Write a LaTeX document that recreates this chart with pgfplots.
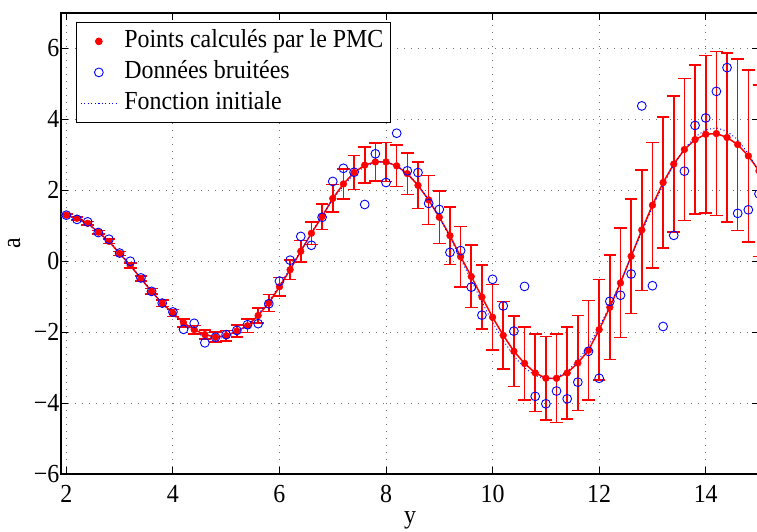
\documentclass[border=0pt]{standalone}
\usepackage{fontspec}
\setmainfont{Liberation Serif}[FakeStretch=0.92]
\usepackage{pgfplots}
\pgfplotsset{compat=1.18}
\usepackage{pgfplotstable}

\pgfplotsset{mylegend/.style={legend image code/.code={\draw[mark repeat=2,mark phase=2,##1] plot coordinates {(0pt,0pt) (18pt,0pt) (36pt,0pt)};}}}

\pgfplotstableread{
x y e n f
2.0 1.30 0.04 1.30 1.286
2.2 1.21 0.04 1.18 1.199
2.4 1.07 0.05 1.11 1.046
2.6 0.82 0.05 0.81 0.831
2.8 0.56 0.06 0.62 0.561
3.0 0.22 0.06 0.23 0.244
3.2 -0.12 0.07 0.00 -0.104
3.4 -0.49 0.07 -0.47 -0.471
3.6 -0.85 0.08 -0.85 -0.840
3.8 -1.19 0.09 -1.18 -1.193
4.0 -1.46 0.10 -1.43 -1.514
4.2 -1.74 0.11 -1.92 -1.786
4.4 -1.93 0.12 -1.75 -1.996
4.6 -2.07 0.13 -2.30 -2.131
4.8 -2.14 0.14 -2.14 -2.183
5.0 -2.10 0.15 -2.07 -2.144
5.2 -1.97 0.17 -1.95 -2.015
5.4 -1.82 0.19 -1.79 -1.796
5.6 -1.53 0.21 -1.76 -1.494
5.8 -1.18 0.24 -1.20 -1.119
6.0 -0.72 0.26 -0.56 -0.684
6.2 -0.24 0.28 0.03 -0.207
6.4 0.28 0.30 0.70 0.295
6.6 0.79 0.32 0.45 0.800
6.8 1.26 0.36 1.24 1.288
7.0 1.77 0.39 2.25 1.738
7.2 2.18 0.42 2.62 2.130
7.4 2.50 0.48 2.51 2.445
7.6 2.71 0.51 1.60 2.668
7.8 2.80 0.54 3.03 2.789
8.0 2.80 0.55 2.22 2.798
8.2 2.69 0.58 3.61 2.694
8.4 2.47 0.59 2.55 2.477
8.6 2.14 0.65 2.50 2.154
8.8 1.73 0.69 1.63 1.735
9.0 1.24 0.74 1.46 1.236
9.2 0.72 0.81 0.25 0.676
9.4 0.13 0.85 0.30 0.076
9.6 -0.43 0.88 -0.73 -0.540
9.8 -1.01 0.90 -1.52 -1.147
10.0 -1.58 0.92 -0.51 -1.720
10.2 -2.09 0.95 -1.26 -2.235
10.4 -2.54 0.99 -1.97 -2.670
10.6 -2.88 1.03 -0.71 -3.004
10.8 -3.15 1.09 -3.81 -3.225
11.0 -3.30 1.18 -4.02 -3.317
11.2 -3.30 1.25 -3.66 -3.277
11.4 -3.15 1.30 -3.88 -3.104
11.6 -2.87 1.34 -3.41 -2.802
11.8 -2.51 1.40 -2.54 -2.382
12.0 -1.93 1.42 -3.30 -1.859
12.2 -1.30 1.47 -1.13 -1.251
12.4 -0.61 1.54 -0.96 -0.583
12.6 0.14 1.61 -0.36 0.119
12.8 0.88 1.70 4.38 0.828
13.0 1.58 1.77 -0.69 1.515
13.2 2.22 1.85 -1.84 2.151
13.4 2.74 1.92 0.73 2.710
13.6 3.15 2.00 2.54 3.168
13.8 3.43 2.10 3.83 3.505
14.0 3.58 2.22 4.04 3.707
14.2 3.60 2.31 4.79 3.762
14.4 3.49 2.38 5.46 3.666
14.6 3.29 2.42 1.35 3.422
14.8 2.97 2.42 1.45 3.037
15.0 2.55 2.42 1.90 2.519
}\datatable

\begin{document}
\begin{tikzpicture}[font=\fontsize{26}{30}\selectfont]
\useasboundingbox (-61pt,-57pt) rectangle (696pt,474pt);
\begin{axis}[
  at={(0pt,0pt)}, anchor=south west,
  scale only axis, width=698pt, height=461pt,
  xmin=1.9, xmax=15, ymin=-6, ymax=7,
  xtick={2,4,...,14}, ytick={-6,-4,...,6},
  yticklabels={−6,−4,−2,0,2,4,6},
  /pgf/number format/assume math mode=true,
  tick align=inside, major tick length=7pt,
  tick style={black, line width=0.8pt},
  axis line style={line width=1.1pt},
  grid=major,
  grid style={dash pattern=on 1pt off 6pt, line width=0.8pt, black!55},
  tick label style={font=\fontsize{26}{30}\selectfont},
  yticklabel style={inner sep=1.5pt},
  xticklabel style={yshift=-8pt},
  xlabel={y}, ylabel={a},
  label style={font=\fontsize{26}{30}\selectfont},
  xlabel style={at={(axis description cs:0.5,0)}, anchor=north, yshift=-37pt, inner sep=0pt},
  ylabel style={at={(axis description cs:-0.067,0.5)}, anchor=center, inner sep=0pt},
  legend style={at={(axis description cs:0.0215,0.9805)}, anchor=north west,
    draw=black, line width=0.8pt, inner sep=4pt, row sep=1pt, column sep=4pt,
    font=\fontsize{26}{30}\selectfont,
    nodes={inner sep=3pt, text height=18pt, text depth=6pt}},
  legend cell align=left,
]
\addplot[color=red, line width=1.5pt, forget plot,
  error bars/.cd, y dir=both, y explicit,
  error bar style={color=red, solid, line width=1.6pt},
  error mark options={rotate=90, mark size=6.3pt, color=red, solid, line width=1.6pt}]
  table[x=x, y=y, y error=e] {\datatable};
\addplot[red, only marks, mark=*, mark size=3.4pt, mylegend] table[x=x, y=y] {\datatable};
\addplot[blue, only marks, mark=o, mark size=4.4pt, mark options={line width=0.9pt}, mylegend] table[x=x, y=n] {\datatable};
\addplot[blue, dash pattern=on 1pt off 2.5pt, line width=0.9pt, mylegend] table[x=x, y=f] {\datatable};
\legend{Points calculés par le PMC, Données bruitées, Fonction initiale}
\end{axis}
\end{tikzpicture}
\end{document}
